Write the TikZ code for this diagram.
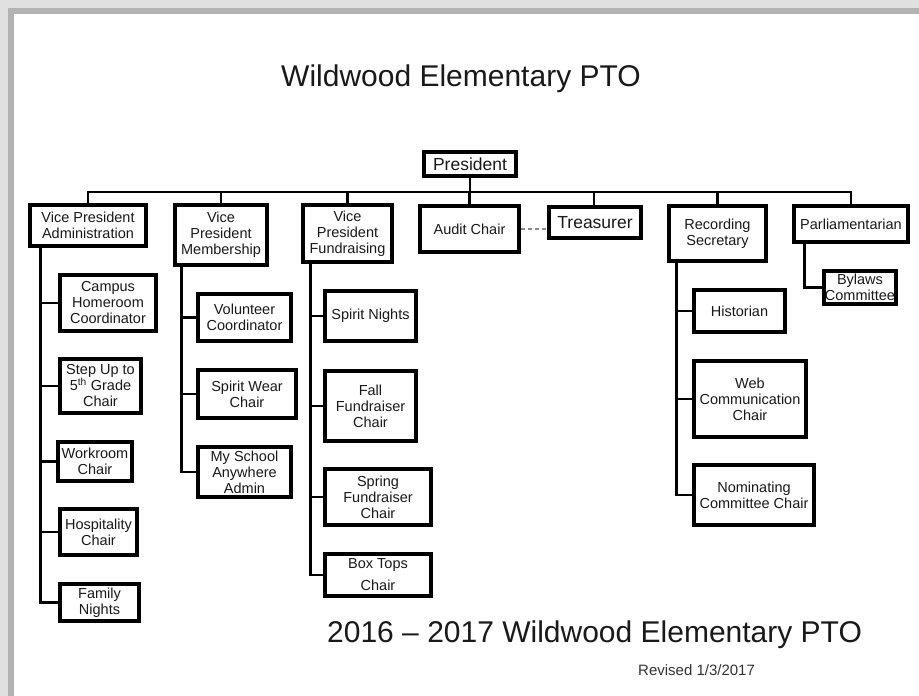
\documentclass[tikz,border=0pt]{standalone}
\usepackage{fontspec}
\setmainfont{Liberation Sans}
\usetikzlibrary{shadows}
\tikzset{
  box/.style={draw=black, line width=3.6pt, fill=white, inner sep=0pt, align=center,
    text=black!90, font=\fontsize{14.5}{16}\selectfont,
    drop shadow={shadow xshift=1.5pt, shadow yshift=-1.5pt, fill=black, opacity=0.25}},
  link/.style={line width=2.4pt, line join=miter},
  bigtitle/.style={font=\fontsize{30}{34}\selectfont, text=black!90, inner sep=0pt},
}
\begin{document}
\begin{tikzpicture}[x=1pt, y=-1pt]
\useasboundingbox (0,0) rectangle (919,696);
\fill[white] (0,0) rectangle (919,696);
% frame
\fill[black!12] (0,0) rectangle (919,14);
\fill[black!12] (0,0) rectangle (14,696);
\fill[black!30] (8,8) rectangle (919,14);
\fill[black!30] (8,8) rectangle (14,696);

% titles
\node[bigtitle, anchor=base] (title) at (461,86) {Wildwood Elementary PTO};
\node[bigtitle, anchor=base west] (title2) at (327,642) {2016 -- 2017 Wildwood Elementary PTO};
\node[font=\fontsize{15}{17}\selectfont, text=black!80, inner sep=0pt, anchor=base west] (rev) at (638,675) {Revised 1/3/2017};

% top level
\node[box, minimum width=92.4pt, minimum height=24.4pt, font=\fontsize{17.5}{19}\selectfont] (pres) at (470,164) {President};
\node[box, minimum width=116.4pt, minimum height=41.4pt] (vpa) at (88,225.5) {Vice President\\Administration};
\node[box, minimum width=92.4pt, minimum height=60.4pt] (vpm) at (221,235) {Vice\\President\\Membership};
\node[box, minimum width=89.4pt, minimum height=57.4pt] (vpf) at (347.5,233.5) {Vice\\President\\Fundraising};
\node[box, minimum width=99.4pt, minimum height=46.4pt] (audit) at (469.5,229) {Audit Chair};
\node[box, minimum width=92.4pt, minimum height=31.4pt, font=\fontsize{17.5}{19}\selectfont] (treas) at (595,222.5) {Treasurer};
\node[box, minimum width=97.4pt, minimum height=55.4pt] (rec) at (717.5,233.5) {Recording\\Secretary};
\node[box, minimum width=114.4pt, minimum height=36.4pt] (parl) at (851,224) {Parliamentarian};

% VP Administration
\node[box, minimum width=96.4pt, minimum height=56.4pt] (campus) at (108,303) {Campus\\Homeroom\\Coordinator};
\node[box, minimum width=81.4pt, minimum height=54.4pt] (stepup) at (100.5,386) {Step Up to\\5\textsuperscript{th} Grade\\Chair};
\node[box, minimum width=74.4pt, minimum height=39.4pt] (work) at (95,461.5) {Workroom\\Chair};
\node[box, minimum width=77.4pt, minimum height=46.4pt] (hosp) at (98.5,532) {Hospitality\\Chair};
\node[box, minimum width=79.4pt, minimum height=37.4pt] (family) at (99.5,602.5) {Family\\Nights};

% VP Membership
\node[box, minimum width=93.4pt, minimum height=47.4pt] (volun) at (244.5,317.5) {Volunteer\\Coordinator};
\node[box, minimum width=98.4pt, minimum height=48.4pt] (swear) at (247,394) {Spirit Wear\\Chair};
\node[box, minimum width=93.4pt, minimum height=50.4pt] (mys) at (244.5,472) {My School\\Anywhere\\Admin};

% VP Fundraising
\node[box, minimum width=91.4pt, minimum height=50.4pt] (spiritn) at (370.5,316) {Spirit Nights};
\node[box, minimum width=91.4pt, minimum height=70.4pt] (fall) at (370.5,406) {Fall\\Fundraiser\\Chair};
\node[box, minimum width=106.4pt, minimum height=56.4pt] (spring) at (378,497) {Spring\\Fundraiser\\Chair};
\node[box, minimum width=106.4pt, minimum height=42.4pt] (boxtops) at (378,575) {Box Tops\\[6pt]Chair};

% Recording Secretary
\node[box, minimum width=91.4pt, minimum height=42.4pt] (hist) at (739.5,311) {Historian};
\node[box, minimum width=112.4pt, minimum height=76.4pt] (web) at (750,399) {Web\\Communication\\Chair};
\node[box, minimum width=120.4pt, minimum height=60.4pt] (nom) at (754,495) {Nominating\\Committee Chair};

% Parliamentarian
\node[box, minimum width=72.4pt, minimum height=33.4pt] (bylaws) at (860,287.5) {Bylaws\\Committee};

% connectors: top level
\coordinate (bus) at (470,192);
\draw[link] (pres.south) -- (bus);
\draw[link] (vpa.north) -- (vpa.north |- bus) -- (parl.north |- bus) -- (parl.north);
\foreach \n in {vpm,vpf,audit,rec}
  \draw[link] (\n.north |- bus) -- (\n.north);
\draw[link] ([xshift=-1pt]treas.north |- bus) -- ([xshift=-1pt]treas.north);
\draw[black!45, line width=1.5pt, dash pattern=on 4pt off 3pt] (audit.east) -- (audit.east -| treas.west);

% spines
\coordinate (sa) at ([xshift=12.5pt]vpa.south west);
\draw[link] (sa) |- (family.west);
\foreach \n in {campus,stepup,work,hosp}
  \draw[link] (sa |- \n.west) -- (\n.west);

\coordinate (sm) at ([xshift=8.5pt]vpm.south west);
\draw[link] (sm) |- (mys.west);
\foreach \n in {volun,swear}
  \draw[link] (sm |- \n.west) -- (\n.west);

\coordinate (sf) at ([xshift=9.5pt]vpf.south west);
\draw[link] (sf) |- (boxtops.west);
\foreach \n in {spiritn,fall,spring}
  \draw[link] (sf |- \n.west) -- (\n.west);

\coordinate (sr) at ([xshift=9.5pt]rec.south west);
\draw[link] (sr) |- (nom.west);
\foreach \n in {hist,web}
  \draw[link] (sr |- \n.west) -- (\n.west);

\coordinate (sp) at ([xshift=12.5pt]parl.south west);
\draw[link] (sp) |- (bylaws.west);
\end{tikzpicture}
\end{document}
